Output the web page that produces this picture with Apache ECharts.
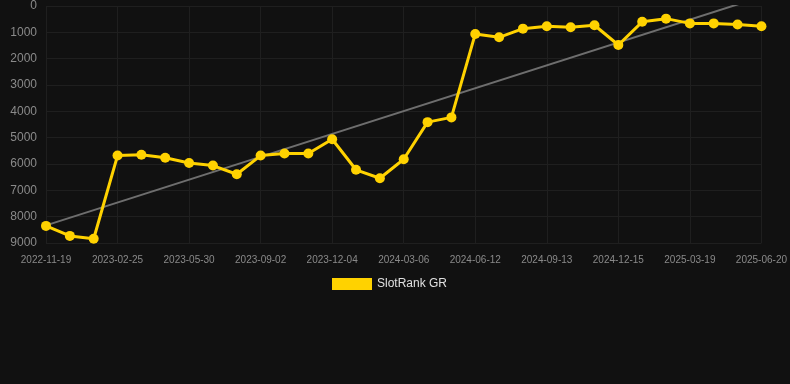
<!DOCTYPE html>
<html>
<head>
<meta charset="utf-8">
<script src="https://cdn.jsdelivr.net/npm/echarts@6/dist/echarts.min.js"></script>
<style>
  html, body { margin: 0; padding: 0; background: #111111; }
  #chart { width: 790px; height: 384px; }
</style>
</head>
<body>
<div id="chart"></div>
<script>
// dates of each sample (one every ~month)
var dates = [
  '2022-11-19', '2022-12-21', '2023-01-23', '2023-02-25', '2023-03-28', '2023-04-29',
  '2023-05-30', '2023-07-01', '2023-08-02', '2023-09-02', '2023-10-03', '2023-11-03',
  '2023-12-04', '2024-01-04', '2024-02-04', '2024-03-06', '2024-04-08', '2024-05-10',
  '2024-06-12', '2024-07-13', '2024-08-13', '2024-09-13', '2024-10-14', '2024-11-14',
  '2024-12-15', '2025-01-15', '2025-02-16', '2025-03-19', '2025-04-19', '2025-05-20',
  '2025-06-20'
];
// rank values (lower is better, axis inverted)
var ranks = [
  8350, 8730, 8840, 5680, 5650, 5760,
  5960, 6060, 6390, 5680, 5600, 5600,
  5060, 6220, 6540, 5820, 4410, 4230,
  1060, 1190, 860, 770, 810, 730,
  1480, 600, 480, 660, 660, 700,
  770
];
// trend line end points [category index, value]
var trendLine = [[0, 8330], [30, -350]];
var yTicks = [0, 9000, 1000];

var chart = echarts.init(document.getElementById('chart'));

var option = {
  backgroundColor: '#111111',
  textStyle: { fontFamily: 'Liberation Sans, Arial, sans-serif' },
  grid: { left: 46, right: 28, top: 6, bottom: 141 },
  legend: {
    data: ['SlotRank GR'],
    left: 327,
    top: 273,
    itemWidth: 40,
    itemHeight: 12,
    itemGap: 10,
    icon: 'rect',
    textStyle: { color: '#e0e0e0', fontSize: 12 }
  },
  xAxis: {
    type: 'category',
    data: dates,
    boundaryGap: false,
    axisLine: { show: false },
    axisTick: { show: false },
    axisLabel: { color: '#8a8a8a', fontSize: 10, interval: 2, margin: 12 },
    splitLine: { show: true, interval: 2, lineStyle: { color: '#1f1f1f' } }
  },
  yAxis: {
    type: 'value',
    inverse: true,
    min: yTicks[0],
    max: yTicks[1],
    interval: yTicks[2],
    axisLine: { show: false },
    axisTick: { show: false },
    axisLabel: {
      color: '#8a8a8a',
      fontSize: 12,
      margin: 9,
      formatter: function (v) { return String(v); }
    },
    splitLine: { lineStyle: { color: '#1f1f1f' } }
  },
  series: [
    {
      name: 'SlotRank GR',
      type: 'line',
      data: ranks,
      symbol: 'circle',
      symbolSize: 10,
      z: 3,
      itemStyle: { color: '#ffd200' },
      lineStyle: { color: '#ffd200', width: 3 }
    },
    {
      name: 'trend',
      type: 'line',
      data: trendLine,
      symbol: 'none',
      clip: false,
      z: 2,
      silent: true,
      lineStyle: { color: '#6e6e6e', width: 2 }
    }
  ]
};

chart.setOption(option);
</script>
</body>
</html>
